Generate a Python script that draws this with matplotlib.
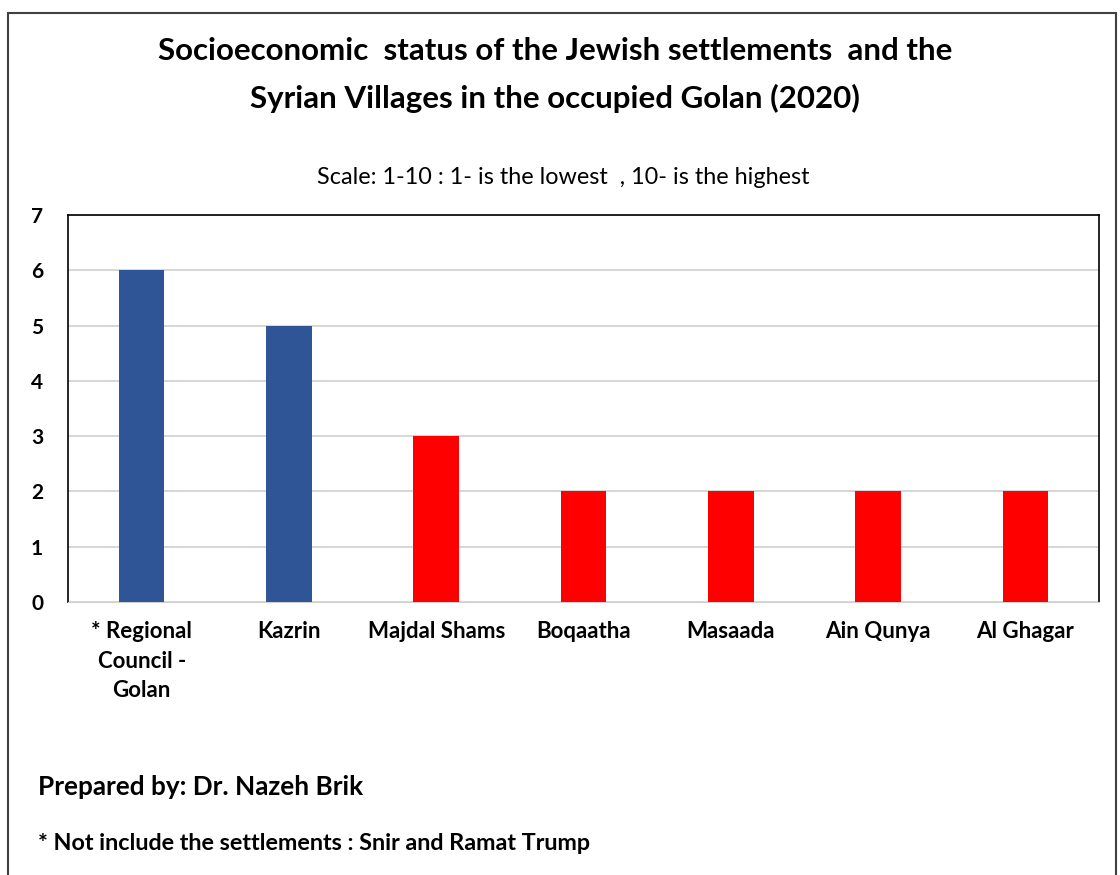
import matplotlib.pyplot as plt
from matplotlib.patches import Rectangle

plt.rcParams['font.family'] = ['Lato', 'DejaVu Sans']

places = ['* Regional\nCouncil -\nGolan', 'Kazrin', 'Majdal Shams', 'Boqaatha',
          'Masaada', 'Ain Qunya', 'Al Ghagar']
scores = [6, 5, 3, 2, 2, 2, 2]
group = ['jewish', 'jewish', 'syrian', 'syrian', 'syrian', 'syrian', 'syrian']
group_colors = {'jewish': '#2F5597', 'syrian': '#FF0000'}

fig = plt.figure(figsize=(11.2, 8.75), dpi=100)

# chart area frame (excel-like)
fig.patches.append(Rectangle((8/1120, -0.01), 1108/1120, 1 - 13/875 + 0.01,
                             transform=fig.transFigure, fill=False,
                             edgecolor='#404040', linewidth=1.5))

ax = fig.add_axes([68/1120, 1 - 602/875, (1099 - 68)/1120, (602 - 215)/875])
xs = range(len(places))
ax.bar(xs, scores, width=0.31, color=[group_colors[g] for g in group], zorder=3)

ax.set_ylim(0, 7)
ax.set_xlim(-0.5, len(places) - 0.5)
ax.set_yticks(range(0, 8))
ax.set_xticks(list(xs))
ax.set_xticklabels(places, fontsize=16, fontweight='bold', linespacing=1.5)
ax.tick_params(axis='y', length=0, pad=18, labelsize=15)
ax.tick_params(axis='x', length=0, pad=14)
for lab in ax.get_yticklabels():
    lab.set_fontweight('bold')
ax.grid(axis='y', color='#D0D0D0', linewidth=1.2, zorder=0)
for s in ['top', 'left', 'right']:
    ax.spines[s].set_color('black')
    ax.spines[s].set_linewidth(1.2)
ax.spines['bottom'].set_color('#D0D0D0')

fig.text(555/1120, 1 - 51/875, 'Socioeconomic  status of the Jewish settlements  and the',
         ha='center', va='center', fontsize=22.5, fontweight='bold')
fig.text(555/1120, 1 - 98/875, 'Syrian Villages in the occupied Golan (2020)',
         ha='center', va='center', fontsize=22.5, fontweight='bold')
fig.text(563/1120, 1 - 177/875, 'Scale: 1-10 : 1- is the lowest  , 10- is the highest',
         ha='center', va='center', fontsize=16.8)
fig.text(38/1120, 1 - 787/875, 'Prepared by: Dr. Nazeh Brik',
         ha='left', va='center', fontsize=18.8, fontweight='bold')
fig.text(38/1120, 1 - 843/875, '* Not include the settlements : Snir and Ramat Trump',
         ha='left', va='center', fontsize=16.8, fontweight='bold')

fig.savefig('out.png', dpi=100)
